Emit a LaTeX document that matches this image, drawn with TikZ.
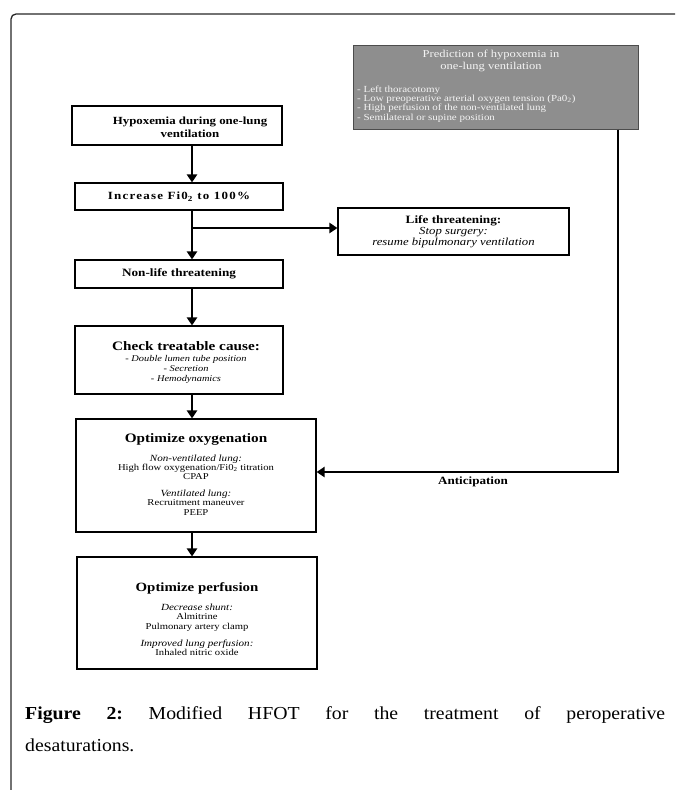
\documentclass[tikz,border=0pt]{standalone}
\usepackage{fontspec}
\setmainfont{Liberation Serif}
\newfontfamily\bx{Liberation Serif}[FakeStretch=1.18]
\newfontfamily\bxwide{Liberation Serif}[FakeStretch=1.18,LetterSpace=11]
\newfontfamily\capfont{Liberation Serif}[FakeStretch=1.08]
\usetikzlibrary{arrows.meta,calc}
\definecolor{boxgray}{HTML}{8E8E8E}
\definecolor{lighttext}{HTML}{F4F4F4}
\newcommand{\fsz}[2]{\fontsize{#1}{#2}\selectfont}
\begin{document}
\begin{tikzpicture}[x=1pt,y=-1pt,
  box/.style={draw=black,line width=1.1pt,fill=white,rectangle,inner sep=0pt,align=center},
  arr/.style={line width=2.8pt,-{Triangle[width=10pt,length=8pt]}},
  txt/.style={align=center,inner sep=0pt}
]
\useasboundingbox (0,0) rectangle (675,790);
% outer frame
\draw[line width=1.3pt,color=black!85,rounded corners=5pt] (11,790) -- (11,14) -- (675,14);

% gray prediction box
\node[rectangle,fill=boxgray,draw=black!70,line width=1pt,minimum width=285pt,minimum height=84pt,inner sep=0pt] (pred) at (495.5,87) {};
\node[txt,text=lighttext,font=\bx\fsz{10.6}{12}] (predt) at (491,61) {Prediction of hypoxemia in\\one-lung ventilation};
\node[txt,align=left,text=lighttext,font=\bx\fsz{9.3}{9.4},anchor=west] (predl) at (357,104) {- Left thoracotomy\\- Low preoperative arterial oxygen tension (Pa0\textsubscript{2})\\- High perfusion of the non-ventilated lung\\- Semilateral or supine position};

% main column
\node[box,minimum width=210pt,minimum height=39pt] (b1) at (177,125.5) {};
\node[txt,font=\bx\bfseries\fsz{10.9}{13.3}] (b1t) at (190,127) {Hypoxemia during one-lung\\ventilation};
\node[box,minimum width=208pt,minimum height=27pt,font=\bxwide\bfseries\fsz{11}{13}] (b2) at (179,196.5) {Increase Fi0\textsubscript{2} to 100\%};
\node[box,minimum width=231pt,minimum height=47pt,font=\bx\fsz{10.8}{9.6}] (life) at (453.5,231.5) {\textbf{\fsz{11.2}{9.6}Life threatening:}\\\textit{Stop surgery:}\\\textit{resume bipulmonary ventilation}};
\node[box,minimum width=208pt,minimum height=28pt,font=\bx\bfseries\fsz{11.2}{13}] (nl) at (179,274) {Non-life threatening};
\node[box,minimum width=208pt,minimum height=68pt] (chk) at (179,360) {};
\node[txt,font=\bx\fsz{8.8}{10}] (chkt) at (186,362.5) {{\bfseries\fsz{12.9}{14}Check treatable cause:}\\[0.5pt]\textit{- Double lumen tube position}\\\textit{- Secretion}\\\textit{- Hemodynamics}};
\node[box,minimum width=240pt,minimum height=113pt] (ox) at (196,475.5) {};
\node[txt,font=\bx\fsz{9}{9.2}] (oxt) at (196,474.5) {{\bfseries\fsz{12.9}{14}Optimize oxygenation}\\[8pt]{\fsz{9.4}{9.2}\textit{Non-ventilated lung:}}\\High flow oxygenation/Fi0\textsubscript{2} titration\\CPAP\\[8pt]{\fsz{9.4}{9.2}\textit{Ventilated lung:}}\\Recruitment maneuver\\PEEP};
\node[box,minimum width=240pt,minimum height=112pt] (perf) at (197,613) {};
\node[txt,font=\bx\fsz{9}{9.2}] (perft) at (197,619) {{\bfseries\fsz{12.6}{14}Optimize perfusion}\\[9pt]{\fsz{9.4}{9.2}\textit{Decrease shunt:}}\\Almitrine\\Pulmonary artery clamp\\[8pt]{\fsz{9.4}{9.2}\textit{Improved lung perfusion:}}\\Inhaled nitric oxide};

% connectors
\coordinate (ax) at (192,0);
\coordinate (corner) at (618,472);
\draw[arr] (b1.south -| ax) -- (b2.north -| ax);
\draw[arr] (b2.south -| ax) -- (nl.north -| ax);
\draw[arr] ([yshift=3.5pt]life.west -| ax) -- ([yshift=3.5pt]life.west);
\draw[arr] (nl.south -| ax) -- (chk.north -| ax);
\draw[arr] (chk.south -| ax) -- (ox.north -| ax);
\draw[arr] (ox.south -| ax) -- (perf.north -| ax);
\draw[arr] (pred.south -| corner) -- (corner) -- (ox.east |- corner);
\node[txt,font=\bx\bfseries\fsz{11.1}{12}] (ant) at (473,482) {Anticipation};

% caption
\node[anchor=north west,inner sep=0pt,text width=640pt,align=justify,font=\capfont\fsz{18.3}{32.5}] (cap) at (25,706) {\frenchspacing\textbf{Figure 2:} Modified HFOT for the treatment of peroperative\linebreak desaturations.};
\end{tikzpicture}
\end{document}
